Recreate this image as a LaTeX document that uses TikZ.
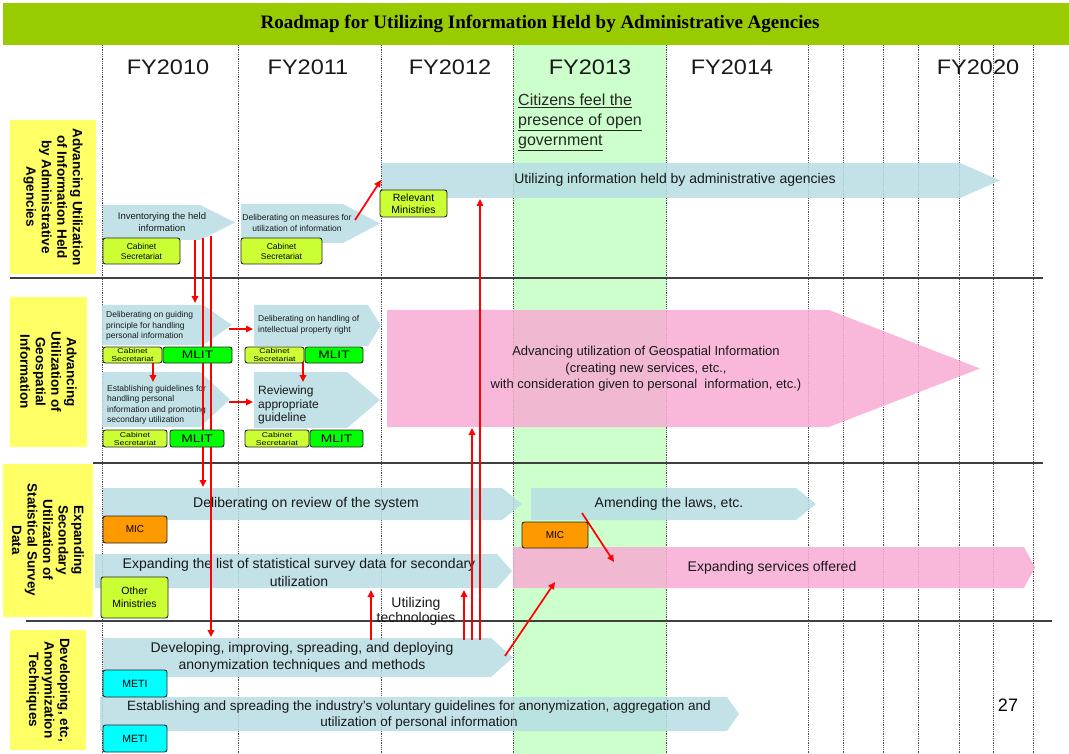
\documentclass[tikz,border=0pt]{standalone}
\usepackage{fontspec}
\setmainfont{Liberation Sans}
\newfontfamily\titlefont{Liberation Serif}
\newfontfamily\widefont{Liberation Sans}[FakeStretch=1.25]
\newfontfamily\yearfont{Liberation Sans}[FakeStretch=1.12]
\usetikzlibrary{arrows.meta,positioning,calc}

\definecolor{titlegreen}{RGB}{153,204,0}
\definecolor{bandgreen}{RGB}{204,255,204}
\definecolor{taskblue}{RGB}{183,221,228}
\definecolor{taskpink}{RGB}{248,172,212}
\definecolor{rowyellow}{RGB}{255,255,102}
\definecolor{limebox}{RGB}{204,255,51}
\definecolor{mlitgreen}{RGB}{0,255,0}
\definecolor{micorange}{RGB}{255,153,0}
\definecolor{meticyan}{RGB}{0,255,255}

\newcommand{\fs}[2]{\fontsize{#1}{#2}\selectfont}
% task arrow: style, left, top, bottom, shoulder, tip
\newcommand{\taskarrow}[6]{%
  \fill[#1] (#2,#3) -- (#5,#3) -- (#6,{(#3+#4)/2}) -- (#5,#4) -- (#2,#4) -- cycle;}

\tikzset{
  yearline/.style={black!70, densely dotted, line width=0.8pt},
  rowline/.style={black!75, line width=1.2pt},
  yearlabel/.style={font=\yearfont\fs{21}{24}, text=black!90},
  rowlabel/.style={fill=rowyellow, rotate=-90, align=center, inner sep=0pt, font=\bfseries\fs{13.5}{15.5}},
  bluearrow/.style={fill=taskblue, fill opacity=0.85},
  pinkarrow/.style={fill=taskpink, fill opacity=0.85},
  tasktext/.style={align=center, inner sep=0pt, text=black!90},
  orgbox/.style={draw=black!85, line width=0.9pt, rounded corners=2.5pt, inner sep=0pt, align=center},
  redarrow/.style={red, line width=1.7pt, -{Triangle[length=7pt,width=6.5pt]}}
}

\begin{document}
\begin{tikzpicture}[x=1pt,y=-1pt]
  \useasboundingbox (0,0) rectangle (1069,754);

  % Title bar
  \fill[titlegreen] (3,3) rectangle (1069,45);
  \node[font=\titlefont\bfseries\fs{19}{22}] (title) at (540,24) {Roadmap for Utilizing Information Held by Administrative Agencies};

  % FY2013 band and year grid
  \fill[bandgreen] (513,45) rectangle (666,754);
  \foreach \xv in {102,238,381,513,666,808,843,883,918,959,993,1033}
    \draw[yearline] (\xv,45) -- (\xv,754);
  \foreach \yr/\xc in {2010/168,2011/308,2012/450,2013/590,2014/732,2020/978}
    \node[yearlabel] (fy\yr) at (\xc,67) {FY\yr};

  % Row separators
  \draw[rowline] (10,278) -- (1043,278);
  \draw[rowline] (93,463) -- (1043,463);
  \draw[rowline] (26,621) -- (1052,621);

  % Row headings
  \node[rowlabel, minimum width=154pt, minimum height=86pt] (rowInfo) at (53,197) {Advancing Utilization\\of Information Held\\by Administrative\\Agencies};
  \node[rowlabel, minimum width=150pt, minimum height=77pt] (rowGeo) at (48.5,372) {Advancing\\Utilization of\\Geospatial\\Information};
  \node[rowlabel, minimum width=153pt, minimum height=90pt] (rowStat) at (48,540) {Expanding\\Secondary\\Utilization of\\Statistical Survey\\Data};
  \node[rowlabel, minimum width=120pt, minimum height=76pt] (rowAnon) at (48,690) {Developing, etc,\\Anonymization\\Techniques};

  % Goal
  \node[anchor=north west, align=left, inner sep=0pt, font=\fs{16}{20}, text=black!85] (citizens) at (518,94) {\underline{Citizens feel the}\\\underline{presence of open}\\\underline{government}};

  % Row 1: administrative information
  \taskarrow{bluearrow}{382}{163}{198}{960}{1000}
  \node[tasktext, font=\fs{14}{16}] (utilize) at (675,180) {Utilizing information held by administrative agencies};
  \taskarrow{bluearrow}{103}{205}{240}{200}{235}
  \node[tasktext, font=\fs{9.5}{12}] (inventory) at (162,222) {Inventorying the held\\information};
  \taskarrow{bluearrow}{241}{204}{243}{343}{380}
  \node[tasktext, font=\fs{8.5}{10.5}] (measures) at (297,223) {Deliberating on measures for\\utilization of information};

  % Row 2: geospatial information
  \taskarrow{bluearrow}{102}{305}{345}{203}{232}
  \node[tasktext, anchor=west, align=left, font=\fs{8.5}{10.5}] (guiding) at (106,326) {Deliberating on guiding\\principle for handling\\personal information};
  \taskarrow{bluearrow}{102}{372}{427}{200}{230}
  \node[tasktext, anchor=west, align=left, font=\fs{8.5}{10.5}] (guidelines) at (107,405) {Establishing guidelines for\\handling personal\\information and promoting\\secondary utilization};
  \taskarrow{bluearrow}{254}{305}{346}{368}{381}
  \node[tasktext, anchor=west, align=left, font=\fs{8.5}{10.5}] (property) at (258,325) {Deliberating on handling of\\intellectual property right};
  \taskarrow{bluearrow}{254}{372}{428}{347}{380}
  \node[tasktext, anchor=west, align=left, font=\fs{12}{13.5}] (reviewing) at (258,405) {Reviewing\\appropriate\\guideline};
  \taskarrow{pinkarrow}{387}{310}{427}{829}{980}
  \node[tasktext, font=\fs{13}{16.5}] (geospatial) at (646,369) {Advancing utilization of Geospatial Information\\(creating new services, etc.,\\with consideration given to personal\ \ information, etc.)};

  % Row 3: statistical survey data
  \taskarrow{bluearrow}{103}{488}{520}{502}{522}
  \node[tasktext, font=\fs{14}{16}] (review) at (306,504) {Deliberating on review of the system};
  \taskarrow{bluearrow}{531}{488}{520}{796}{816}
  \node[tasktext, font=\fs{14}{16}] (amend) at (669,504) {Amending the laws, etc.};
  \taskarrow{bluearrow}{95}{554}{588}{497}{512}
  \node[tasktext, font=\fs{14}{18}] (surveylist) at (299,572) {Expanding the list of statistical survey data for secondary\\utilization};
  \taskarrow{pinkarrow}{513}{547}{588}{1024}{1035}
  \node[tasktext, font=\fs{14}{16}] (services) at (772,568) {Expanding services offered};
  \node[tasktext, font=\fs{14}{15}] (technologies) at (416,611) {Utilizing\\technologies};

  % Row 4: anonymization techniques
  \taskarrow{bluearrow}{103}{638}{677}{491}{513}
  \node[tasktext, font=\fs{14}{17}] (develop) at (302,657) {Developing, improving, spreading, and deploying\\anonymization techniques and methods};
  \taskarrow{bluearrow}{100}{697}{731}{727}{739}
  \node[tasktext, font=\fs{13.5}{16}] (industry) at (419,715) {Establishing and spreading the industry's voluntary guidelines for anonymization, aggregation and\\utilization of personal information};
  \node[font=\fs{18}{20}] (page) at (1008,705) {27};

  % Red links
  \coordinate (measOut) at (355,220);
  \coordinate (utilIn) at (381,180);
  \coordinate (invA) at (195,240);
  \coordinate (invB) at (203,238);
  \coordinate (invC) at (211,236);
  \coordinate (guideIn) at (195,303);
  \coordinate (reviewIn) at (203,487);
  \coordinate (developIn) at (211,637);
  \coordinate (techA) at (371,640);
  \coordinate (techB) at (464,640);
  \coordinate (techC) at (472,640);
  \coordinate (techD) at (480,640);
  \coordinate (developOut) at (505,656);
  \coordinate (amendOut) at (582,513);
  \draw[redarrow] (measOut) -- (utilIn);
  \draw[redarrow] (invA) -- (guideIn);
  \draw[redarrow] (invB) -- (reviewIn);
  \draw[redarrow] (invC) -- (developIn);
  \draw[redarrow] (229,329) -- (253,329);
  \draw[redarrow] (229,402) -- (253,402);
  \draw[redarrow] (153,363) -- (153,382);
  \draw[redarrow] (303,363) -- (303,382);
  \draw[redarrow] (techA) -- (techA |- 0,590);
  \draw[redarrow] (techB) -- (techB |- 0,590);
  \draw[redarrow] (techC) -- (techC |- 0,428);
  \draw[redarrow] (techD) -- (techD |- 0,199);
  \draw[redarrow] (amendOut) -- (614,562);
  \draw[redarrow] (developOut) -- (555,582);

  % Responsible bodies
  \node[orgbox, fill=limebox, font=\fs{10.5}{12.5}, minimum width=67pt, minimum height=27pt] (relevant) at (413.5,203.5) {Relevant\\Ministries};
  \node[orgbox, fill=limebox, font=\fs{8.5}{10}, minimum width=77pt, minimum height=26pt] (cabInv) at (141.5,251) {Cabinet\\Secretariat};
  \node[orgbox, fill=limebox, font=\fs{8.5}{10}, minimum width=81pt, minimum height=26pt] (cabMeas) at (281.5,251) {Cabinet\\Secretariat};
  \node[orgbox, fill=limebox, font=\widefont\fs{7}{8}, minimum width=59pt, minimum height=16pt] (cabGuide) at (132.5,355) {Cabinet\\Secretariat};
  \node[orgbox, fill=mlitgreen, font=\widefont\fs{11}{12}, minimum width=69pt, minimum height=16pt] (mlitGuide) at (197.5,355) {MLIT};
  \node[orgbox, fill=limebox, font=\widefont\fs{7}{8}, minimum width=64pt, minimum height=17pt] (cabLines) at (135,438.5) {Cabinet\\Secretariat};
  \node[orgbox, fill=mlitgreen, font=\widefont\fs{11}{12}, minimum width=54pt, minimum height=17pt] (mlitLines) at (197,438.5) {MLIT};
  \node[orgbox, fill=limebox, font=\widefont\fs{7}{8}, minimum width=59pt, minimum height=16pt] (cabProp) at (274.5,355) {Cabinet\\Secretariat};
  \node[orgbox, fill=mlitgreen, font=\widefont\fs{11}{12}, minimum width=58pt, minimum height=16pt] (mlitProp) at (334,355) {MLIT};
  \node[orgbox, fill=limebox, font=\widefont\fs{7}{8}, minimum width=64pt, minimum height=17pt] (cabRev) at (277,438.5) {Cabinet\\Secretariat};
  \node[orgbox, fill=mlitgreen, font=\widefont\fs{11}{12}, minimum width=53pt, minimum height=17pt] (mlitRev) at (336.5,438.5) {MLIT};
  \node[orgbox, fill=micorange, font=\fs{10}{12}, minimum width=64pt, minimum height=27pt] (micReview) at (135,529.5) {MIC};
  \node[orgbox, fill=micorange, font=\fs{10}{12}, minimum width=66pt, minimum height=26pt] (micAmend) at (555,535) {MIC};
  \node[orgbox, fill=limebox, font=\fs{10.5}{13}, minimum width=67pt, minimum height=41pt] (otherMin) at (134.5,597.5) {Other\\Ministries};
  \node[orgbox, fill=meticyan, font=\fs{10.5}{12}, minimum width=64pt, minimum height=27pt] (metiDev) at (135,683.5) {METI};
  \node[orgbox, fill=meticyan, font=\fs{10.5}{12}, minimum width=64pt, minimum height=27pt] (metiGuide) at (135,738.5) {METI};
\end{tikzpicture}
\end{document}
